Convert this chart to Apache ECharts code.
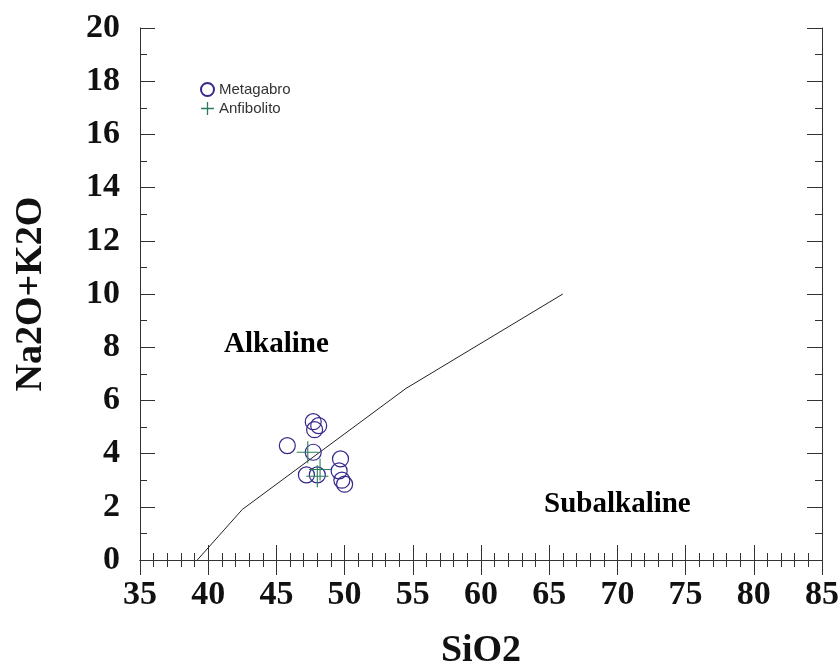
<!DOCTYPE html>
<html><head><meta charset="utf-8">
<script src="https://cdn.jsdelivr.net/npm/echarts@6/dist/echarts.min.js"></script>
<style>html,body{margin:0;padding:0;background:#fff}#c{width:840px;height:671px}</style>
</head><body><div id="c"></div>
<script>
// Data
var metagabroSiO2 = [47.7, 48.1, 47.8, 45.8, 47.7, 49.7, 47.2, 48.0, 49.6, 49.8, 50.0];
var metagabroAlk  = [5.2, 5.05, 4.9, 4.3, 4.05, 3.8, 3.2, 3.2, 3.35, 3.0, 2.85];
var anfibolitoSiO2 = [47.3, 48.2, 48.0];
var anfibolitoAlk  = [4.05, 3.4, 3.15];
var boundarySiO2 = [39.2, 42.5, 54.5, 66.0];
var boundaryAlk  = [0, 1.9, 6.45, 10.0];
var regionNames = ['Alkaline', 'Subalkaline'];
var regionSiO2 = [45.0, 70.0];
var regionAlk = [8.1, 2.07];

function zip(a, b) { return a.map(function (v, i) { return [v, b[i]]; }); }

var serif = '"Liberation Serif", "Times New Roman", serif';
var sans = '"Liberation Sans", Arial, sans-serif';
var axisCol = '#333';
var crossPath = 'path://M0,9.5H9.5V0H10.5V9.5H20V10.5H10.5V20H9.5V10.5H0Z';
var crossLegend = 'path://M0,4.5H4.5V0H5.5V4.5H10V5.5H5.5V10H4.5V5.5H0Z';

function xAx(pos, show) {
  return {
    type: 'value', position: pos, min: 35, max: 85, interval: 5,
    name: show ? 'SiO2' : '', nameLocation: 'middle', nameGap: 72,
    nameTextStyle: { fontFamily: serif, fontWeight: 'bold', fontSize: 38, color: '#111' },
    axisLine: { show: true, lineStyle: { color: axisCol, width: 1 } },
    axisTick: { show: true, inside: true, length: 15, lineStyle: { color: axisCol } },
    minorTick: { show: true, splitNumber: 5, length: -7, lineStyle: { color: axisCol } },
    axisLabel: { show: show, margin: 18, fontFamily: serif, fontWeight: 'bold', fontSize: 34, color: '#111' },
    splitLine: { show: false }
  };
}
function yAx(pos, show) {
  return {
    type: 'value', position: pos, min: 0, max: 20, interval: 2,
    name: show ? 'Na2O+K2O' : '', nameLocation: 'middle', nameGap: 90,
    nameTextStyle: { fontFamily: serif, fontWeight: 'bold', fontSize: 38, color: '#111' },
    axisLine: { show: true, lineStyle: { color: axisCol, width: 1 } },
    axisTick: { show: true, inside: true, length: 15, lineStyle: { color: axisCol } },
    minorTick: { show: true, splitNumber: 2, length: 7, lineStyle: { color: axisCol } },
    axisLabel: { show: show, margin: 20, fontFamily: serif, fontWeight: 'bold', fontSize: 34, color: '#111' },
    splitLine: { show: false }
  };
}

var chart = echarts.init(document.getElementById('c'), null, { renderer: 'canvas' });
chart.setOption({
  animation: false,
  backgroundColor: '#fff',
  grid: { left: 140, right: 18, top: 28, bottom: 111, containLabel: false, outerBoundsMode: 'none' },
  legend: {
    orient: 'vertical', left: 195, top: 77, itemGap: 4, itemWidth: 13, itemHeight: 13,
    textStyle: { fontFamily: sans, fontSize: 15, color: '#333' },
    data: [
      { name: 'Metagabro', icon: 'circle' },
      { name: 'Anfibolito', icon: crossLegend }
    ]
  },
  xAxis: [xAx('bottom', true), xAx('top', false)],
  yAxis: [yAx('left', true), yAx('right', false)],
  series: [
    {
      type: 'line', name: 'boundary', data: zip(boundarySiO2, boundaryAlk),
      showSymbol: false, symbol: 'none', silent: true,
      lineStyle: { color: '#222', width: 1 }, z: 1
    },
    {
      type: 'scatter', name: 'Metagabro', data: zip(metagabroSiO2, metagabroAlk),
      symbol: 'circle', symbolSize: 16,
      itemStyle: { color: 'rgba(0,0,0,0)', borderColor: '#35288a', borderWidth: 1.2, opacity: 1 }, z: 3
    },
    {
      type: 'scatter', name: 'Anfibolito', data: zip(anfibolitoSiO2, anfibolitoAlk),
      symbol: crossPath, symbolSize: 22,
      itemStyle: { color: '#2a7d5c', borderWidth: 0, opacity: 1 }, z: 4
    },
    {
      type: 'scatter', name: 'regions', silent: true,
      data: regionNames.map(function (n, i) { return { name: n, value: [regionSiO2[i], regionAlk[i]] }; }),
      symbolSize: 0, itemStyle: { opacity: 1 },
      label: { show: true, position: 'inside', formatter: '{b}', fontFamily: serif, fontWeight: 'bold', fontSize: 29, color: '#000', opacity: 1 }
    }
  ]
});
</script>
</body></html>
